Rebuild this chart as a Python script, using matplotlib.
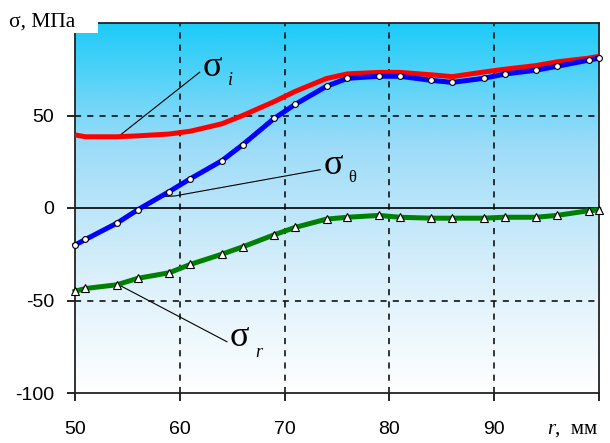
import numpy as np
import matplotlib
matplotlib.use('Agg')
import matplotlib.pyplot as plt
from matplotlib.colors import LinearSegmentedColormap
from matplotlib.patches import Rectangle

plt.rcParams['axes.unicode_minus'] = False

# radius, mm
r = [50, 51, 54, 56, 59, 61, 64, 66, 69, 71, 74, 76, 79, 81, 84, 86, 89, 91, 94, 96, 99, 100]
# stresses, MPa
sigma_i = [39.5, 38.5, 38.5, 39, 40, 41.5, 45.5, 50, 57.5, 63, 70, 72.5, 73.3, 73.3, 72, 71, 73.5, 75, 77, 79, 81, 82]
sigma_theta = [-20, -17, -8.2, -0.9, 8.9, 15.8, 25.5, 34.2, 48.4, 56, 65.8, 70.1, 71.2, 71.2, 69, 67.9, 70.1, 72.4, 74.5, 76.6, 79.9, 81]
sigma_r = [-45, -43.5, -41.5, -38, -35, -30.5, -25, -21, -14.5, -10.5, -6, -5, -4, -5, -5.5, -5.5, -5.5, -5, -5, -4, -1.5, -1]

xticks = [50, 60, 70, 80, 90, 100]
xticklabels = ['50', '60', '70', '80', '90', '']
yticks = [-100, -50, 0, 50]

tick_font = ['Liberation Sans Narrow', 'Liberation Sans', 'DejaVu Sans']
serif = ['Liberation Serif', 'DejaVu Serif']

fig = plt.figure(figsize=(6.1, 4.43), dpi=100)
ax = fig.add_axes([75/610, 50/443, 524/610, 370/443])

# background gradient: cyan at top fading to white
grad = LinearSegmentedColormap.from_list('bg', ['#ffffff', '#d8effb', '#9ddcf8', '#1ccbf8'])
ax.imshow(np.linspace(0, 1, 256).reshape(-1, 1), cmap=grad, origin='lower',
          extent=[50, 100, -100, 100], aspect='auto', zorder=0)

ax.set_xlim(50, 100)
ax.set_ylim(-100, 100)

for x in [60, 70, 80, 90]:
    ax.axvline(x, color='black', lw=1.1, linestyle=(0, (4, 4)), zorder=1)
for y in [50, -50]:
    ax.axhline(y, color='black', lw=1.1, linestyle=(0, (4, 4)), zorder=1)
ax.axhline(0, color='black', lw=1.2, zorder=1)

ax.plot(r, sigma_i, color='#ff0000', lw=3.6, zorder=3, solid_capstyle='butt')
ax.plot(r, sigma_theta, color='#0000ff', lw=3.6, marker='o', ms=4.2,
        mfc='white', mec='black', mew=0.8, zorder=4, clip_on=False)
ax.plot(r, sigma_r, color='#008000', lw=3.6, marker='^', ms=5.5,
        mfc='white', mec='black', mew=0.8, zorder=4, clip_on=False)

# leader lines and labels
ax.plot([54, 61.9], [38, 73.4], color='black', lw=0.8, zorder=2)
ax.plot([57.8, 59.5, 73.4], [6, 6.5, 20.7], color='black', lw=0.8, zorder=2)
ax.plot([54.1, 64.5], [-41.3, -72.3], color='black', lw=0.8, zorder=2)

ax.text(62.2, 76, 'σ', fontsize=26, family=serif, va='center', ha='left')
ax.text(64.6, 69, 'i', fontsize=13, family=serif, style='italic', va='center')
ax.text(73.7, 23, 'σ', fontsize=26, family=serif, va='center', ha='left')
ax.text(76.1, 16, 'θ', fontsize=12, family=serif, va='center')
ax.text(64.8, -70, 'σ', fontsize=26, family=serif, va='center', ha='left')
ax.text(67.2, -78, 'r', fontsize=13, family=serif, style='italic', va='center')

ax.set_xticks(xticks)
ax.set_xticklabels(xticklabels)
ax.set_yticks(yticks)
ax.tick_params(direction='out', length=6, width=1.2, colors='black', labelsize=14)
ax.tick_params(axis='x', pad=14)
ax.tick_params(axis='y', pad=9)
for lab in ax.get_xticklabels() + ax.get_yticklabels():
    lab.set_family(tick_font)

for s in ax.spines.values():
    s.set_linewidth(1.3)
    s.set_color('#222222')

# white box holding the axis title in the corner
fig.add_artist(Rectangle((0, 410/443), 98/610, 33/443, transform=fig.transFigure,
                         facecolor='white', edgecolor='none', zorder=5))
fig.text(9/610, 1 - 22/443, 'σ, МПа', fontsize=15.5, family=serif, va='center',
         ha='left', zorder=6)

fig.text(547/610, 1 - 429/443, 'r', fontsize=15, family=serif, style='italic',
         va='center', ha='left')
fig.text(555/610, 1 - 429/443, ',  мм', fontsize=15, family=serif,
         va='center', ha='left')

fig.savefig('out.png', dpi=100)
